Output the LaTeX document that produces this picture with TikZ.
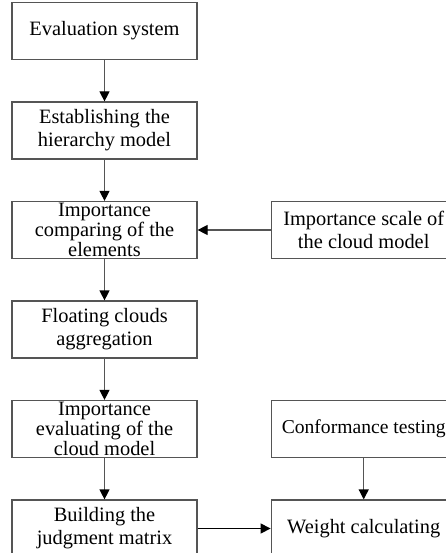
\documentclass[tikz,border=0pt]{standalone}
\usepackage{fontspec}
\setmainfont{Liberation Serif}
\usetikzlibrary{arrows.meta,positioning}
\definecolor{edge}{HTML}{555555}
\tikzset{
  stepbox/.style={rectangle,draw=edge,line width=1.2pt,fill=white,align=center,minimum width=185pt,minimum height=57pt,inner sep=1pt,font=\fontsize{20.4}{23}\selectfont},
  tightbox/.style={stepbox,font=\fontsize{20.4}{17.5}\selectfont},
  arrow/.style={-{Triangle[length=10pt,width=10pt,color=black]},line width=1.2pt,edge}
}
\begin{document}
\begin{tikzpicture}[x=1pt,y=1pt,node distance=41.3pt]
  \clip (0,0) rectangle (446,-553);
  % main column
  \node[stepbox] (evalsys) at (104.5,-31) {Evaluation system};
  \node[stepbox,below=of evalsys] (hier) {Establishing the\\hierarchy model};
  \node[tightbox,below=of hier] (comp) {Importance\\comparing of the\\elements};
  \node[stepbox,below=of comp] (float) {Floating clouds\\aggregation};
  \node[tightbox,below=of float] (evalcm) {Importance\\evaluating of the\\cloud model};
  \node[stepbox,below=of evalcm] (judge) {Building the\\judgment matrix};
  % side column
  \node[stepbox,right=73pt of comp] (scale) {Importance scale of\\the cloud model};
  \node[stepbox,right=73pt of evalcm,font=\fontsize{19.6}{23}\selectfont] (conf) {Conformance testing};
  \node[stepbox,right=73pt of judge] (weight) {Weight calculating};
  % connectors
  \draw[arrow] (evalsys) -- (hier);
  \draw[arrow] (hier) -- (comp);
  \draw[arrow] (comp) -- (float);
  \draw[arrow] (float) -- (evalcm);
  \draw[arrow] (evalcm) -- (judge);
  \draw[arrow] (scale) -- (comp);
  \draw[arrow] (conf) -- (weight);
  \draw[arrow,black] (judge) -- (weight);
\end{tikzpicture}
\end{document}
